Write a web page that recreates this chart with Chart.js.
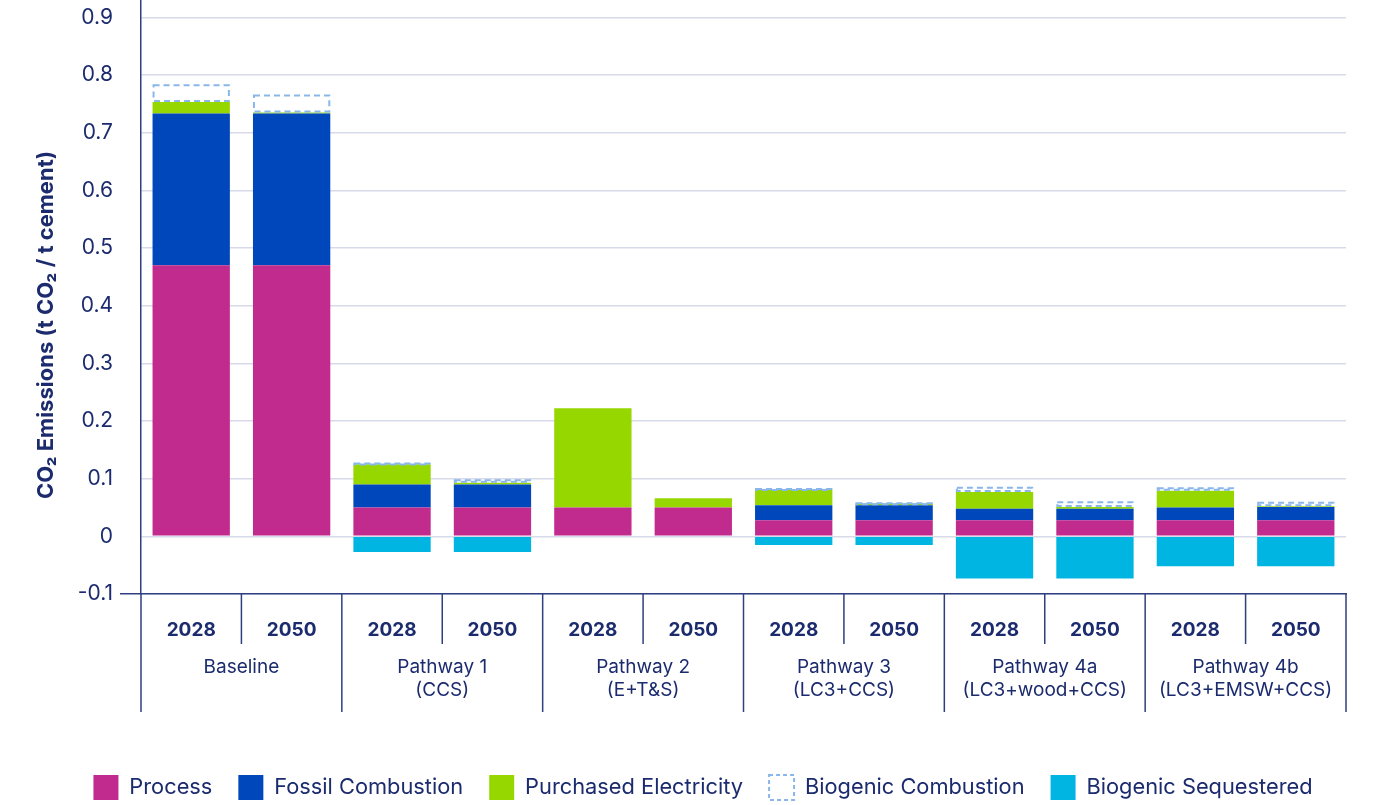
<!DOCTYPE html>
<html>
<head>
<meta charset="utf-8">
<script src="https://cdn.jsdelivr.net/npm/chart.js@4"></script>
<style>
  html, body { margin: 0; padding: 0; background: #fff; overflow: hidden; }
  #wrap { position: relative; width: 1400px; height: 810px; }
</style>
</head>
<body>
<div id="wrap"><canvas id="emissionsChart"></canvas></div>
<script>
const years = ["2028", "2050", "2028", "2050", "2028", "2050", "2028", "2050", "2028", "2050", "2028", "2050"];
const groups = [
  ["Baseline"],
  ["Pathway 1", "(CCS)"],
  ["Pathway 2", "(E+T&S)"],
  ["Pathway 3", "(LC3+CCS)"],
  ["Pathway 4a", "(LC3+wood+CCS)"],
  ["Pathway 4b", "(LC3+EMSW+CCS)"],
];

const processVals = [0.47, 0.47, 0.05, 0.05, 0.05, 0.05, 0.028, 0.028, 0.028, 0.028, 0.028, 0.028];
const fossilVals = [0.263, 0.263, 0.04, 0.04, 0, 0, 0.026, 0.026, 0.02, 0.02, 0.022, 0.023];
const electricityVals = [0.02, 0.002, 0.035, 0.003, 0.172, 0.016, 0.028, 0.003, 0.029, 0.003, 0.029, 0.001];
const bioCombustionVals = [0.031, 0.031, 0.003, 0.006, 0, 0, 0.002, 0.002, 0.009, 0.010, 0.006, 0.008];
const bioSequesteredVals = [0, 0, -0.027, -0.027, 0, 0, -0.015, -0.015, -0.073, -0.073, -0.052, -0.052];

const yTitle = "CO\u2082 Emissions (t CO\u2082 / t cement)";

const NAVY = "#1b2b6e";
const AXIS = "#2f3f80";
const DASH_BLUE = "#8ab7e9";
const FONT = "Inter, 'Noto Sans', sans-serif";

// dashed outline for the biogenic combustion segments + separators under the axis
const extras = {
  id: "extras",
  afterDatasetsDraw(chart) {
    const ctx = chart.ctx;
    const meta = chart.getDatasetMeta(3);
    ctx.save();
    ctx.strokeStyle = DASH_BLUE;
    ctx.lineWidth = 2;
    ctx.setLineDash([6, 4]);
    meta.data.forEach((bar, i) => {
      if (!bioCombustionVals[i]) return;
      const { x, y, base, width } = bar.getProps(["x", "y", "base", "width"], true);
      const top = Math.min(y, base), h = Math.abs(base - y);
      ctx.strokeRect(x - width / 2 + 1, top + 1, width - 2, Math.max(h - 2, 1));
    });
    ctx.restore();
  },
  afterDraw(chart) {
    const ctx = chart.ctx;
    const xs = chart.scales.x;
    const area = chart.chartArea;
    ctx.save();
    ctx.strokeStyle = AXIS;
    ctx.lineWidth = 1.5;
    for (let i = 0; i <= years.length; i++) {
      let px;
      if (i === 0) px = xs.left;
      else if (i === years.length) px = xs.right;
      else px = (xs.getPixelForValue(i - 1) + xs.getPixelForValue(i)) / 2;
      const len = i % 2 === 0 ? 118 : 50;
      ctx.beginPath();
      ctx.moveTo(px, area.bottom);
      ctx.lineTo(px, area.bottom + len);
      ctx.stroke();
    }
    // y axis title
    ctx.translate(46, 325);
    ctx.rotate(-Math.PI / 2);
    ctx.fillStyle = NAVY;
    ctx.font = "bold 22px " + FONT;
    ctx.textAlign = "center";
    ctx.textBaseline = "middle";
    ctx.fillText(yTitle, 0, 0);
    ctx.restore();
  },
};

new Chart(document.getElementById("emissionsChart"), {
  type: "bar",
  data: {
    labels: years,
    datasets: [
      { label: "Process", data: processVals, backgroundColor: "#c22b8e" },
      { label: "Fossil Combustion", data: fossilVals, backgroundColor: "#0047bb" },
      { label: "Purchased Electricity", data: electricityVals, backgroundColor: "#97d700" },
      { label: "Biogenic Combustion", data: bioCombustionVals, backgroundColor: "rgba(255,255,255,0)" },
      { label: "Biogenic Sequestered", data: bioSequesteredVals, backgroundColor: "#00b5e2" },
    ],
  },
  options: {
    responsive: true,
    maintainAspectRatio: false,
    animation: false,
    barPercentage: 0.77,
    categoryPercentage: 1,
    borderWidth: 0,
    layout: { padding: { top: 0, right: 0, left: 6, bottom: 0 } },
    plugins: {
      tooltip: { enabled: false },
      legend: {
        position: "bottom",
        labels: {
          boxWidth: 25,
          boxHeight: 25,
          padding: 26,
          color: NAVY,
          font: { family: FONT, size: 21.8 },
          generateLabels(chart) {
            const items = Chart.defaults.plugins.legend.labels.generateLabels(chart);
            items.forEach((it) => {
              it.lineWidth = 0;
              if (it.text === "Biogenic Combustion") {
                it.fillStyle = "#ffffff";
                it.strokeStyle = DASH_BLUE;
                it.lineWidth = 2;
                it.lineDash = [4, 3];
              }
            });
            return items;
          },
        },
      },
    },
    scales: {
      x: {
        stacked: true,
        position: "bottom",
        grid: { display: true, drawOnChartArea: false, drawTicks: false },
        border: { display: true, color: AXIS, width: 1.5 },
        ticks: { color: NAVY, font: { family: FONT, size: 19, weight: "bold" }, padding: 25, maxRotation: 0 },
        afterFit(s) { s.height = 50; },
      },
      x2: {
        type: "category",
        labels: groups,
        position: "bottom",
        offset: true,
        grid: { display: false },
        border: { display: false },
        ticks: { color: NAVY, font: { family: FONT, size: 19 }, padding: 4, maxRotation: 0, autoSkip: false },
        afterFit(s) { s.height = 105; },
      },
      y: {
        stacked: true,
        min: -0.1,
        max: 0.93,
        ticks: {
          stepSize: 0.1,
          includeBounds: false,
          color: NAVY,
          padding: 7,
          font: { family: FONT, size: 21 },
          callback: (v) => String(Math.round(v * 10) / 10),
        },
        grid: {
          color: "#d7dae9",
          lineWidth: 1.5,
          drawTicks: true,
          tickLength: 21,
          tickColor: (c) => (c.tick && Math.abs(c.tick.value + 0.1) < 1e-6 ? AXIS : "rgba(0,0,0,0)"),
        },
        border: { display: true, color: AXIS, width: 1.5 },
        afterFit(s) {
          s.width = 135;
          s.paddingTop = 0;
          s.paddingBottom = 0;
        },
      },
      // empty right-hand axis that just reserves the right margin
      yRight: {
        type: "linear",
        position: "right",
        grid: { display: false },
        border: { display: false },
        ticks: { display: false },
        afterFit(s) {
          s.width = 54;
          s.paddingTop = 0;
          s.paddingBottom = 0;
        },
      },
    },
  },
  plugins: [extras],
});
</script>
</body>
</html>
